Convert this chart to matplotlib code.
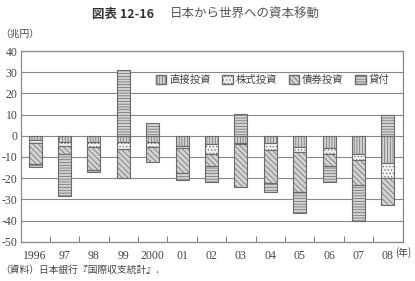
import numpy as np
import matplotlib.pyplot as plt
from matplotlib.patches import Patch

plt.rcParams['font.family'] = ['Liberation Serif', 'DejaVu Serif', 'Noto Sans CJK JP']
plt.rcParams['axes.unicode_minus'] = False
plt.rcParams['hatch.linewidth'] = 0.5

# 日本から世界への資本移動 (兆円), 1996-2008
years = ['1996', '97', '98', '99', '2000', '01', '02', '03', '04', '05', '06', '07', '08']
direct = [-2.2, -2.8, -3.1, -2.8, -3.1, -4.7, -4.1, -3.5, -3.6, -5.2, -6.0, -8.8, -13.0]
stocks = [-1.3, -1.9, -2.1, -3.4, -2.4, -1.3, -4.3, -0.3, -3.1, -2.7, -2.8, -2.7, -7.1]
bonds = [-10.0, -4.1, -11.0, -13.9, -7.1, -11.8, -5.8, -20.4, -15.8, -18.8, -5.4, -11.8, -12.6]
loans = [-1.1, -19.6, -0.8, 31.0, 6.1, -3.1, -7.5, 10.5, -4.0, -9.9, -7.4, -16.8, 9.8]

series = [
    ('直接投資', direct, '#d2d2d2', '||||||'),
    ('株式投資', stocks, '#f2f2f2', '.....'),
    ('債券投資', bonds, '#d2d2d2', '\\\\\\\\\\\\'),
    ('貸付', loans, '#d2d2d2', '------'),
]

fig = plt.figure(figsize=(4.15, 2.81), dpi=100)
ax = fig.add_axes([20.5/415, 1-241.7/281, 382/415, 190.7/281])

x = np.arange(len(years))
pos_base = np.zeros(len(years))
neg_base = np.zeros(len(years))
handles = []
for name, vals, fc, hatch in series:
    v = np.array(vals)
    bottom = np.where(v >= 0, pos_base, neg_base)
    ax.bar(x, v, 0.44, bottom=bottom, facecolor=fc, edgecolor='#6a6a6a',
           hatch=hatch, linewidth=0.8, zorder=3)
    pos_base += np.where(v >= 0, v, 0)
    neg_base += np.where(v < 0, v, 0)
    handles.append(Patch(facecolor=fc, edgecolor='#6a6a6a', hatch=hatch, label=name))

ax.set_xlim(-0.5, 12.5)
ax.set_ylim(-50, 40)
ax.set_yticks(range(-50, 41, 10))
ax.yaxis.grid(True, color='#888888', linewidth=0.8, zorder=0)
ax.tick_params(axis='y', length=0, labelsize=8.5, colors='#444444', pad=2)

ax.set_xticks(x)
ax.set_xticklabels(years)
ax.tick_params(axis='x', length=0, labelsize=8.5, colors='#444444', pad=6)
ax.set_xticks(np.arange(0.5, 12, 1), minor=True)
ax.tick_params(axis='x', which='minor', direction='in', length=4, color='#666666')
for lab in ax.get_xticklabels() + ax.get_yticklabels():
    lab.set_fontfamily('Liberation Serif')
for s in ax.spines.values():
    s.set_color('#888888')
    s.set_linewidth(0.9)

ax.legend(handles=handles, loc='center', bbox_to_anchor=(0.66, 0.848), ncol=4,
          frameon=False, handlelength=1.0, handleheight=1.0,
          handletextpad=0.3, columnspacing=1.1, labelcolor='#444444',
          prop={'family': ['Noto Sans CJK JP'], 'size': 7.5})

fig.text(0.222, 0.948, '図表 12-16', ha='left', va='center', fontsize=9,
         fontweight='bold', color='#333333', family=['Noto Sans CJK JP'])
fig.text(0.41, 0.948, '日本から世界への資本移動', ha='left', va='center', fontsize=9,
         color='#555555', family=['Noto Sans CJK JP'])
fig.text(0.0, 0.878, '（兆円）', ha='left', va='center', fontsize=7, color='#444444',
         family=['Noto Sans CJK JP'])
fig.text(0.952, 0.103, '(年)', ha='left', va='center', fontsize=7, color='#444444',
         family=['Noto Sans CJK JP'])
fig.text(0.0, 0.04, '（資料）日本銀行『国際収支統計』.', ha='left', va='center',
         fontsize=7, color='#444444', family=['Noto Sans CJK JP'])

fig.savefig('out.png', dpi=100)
